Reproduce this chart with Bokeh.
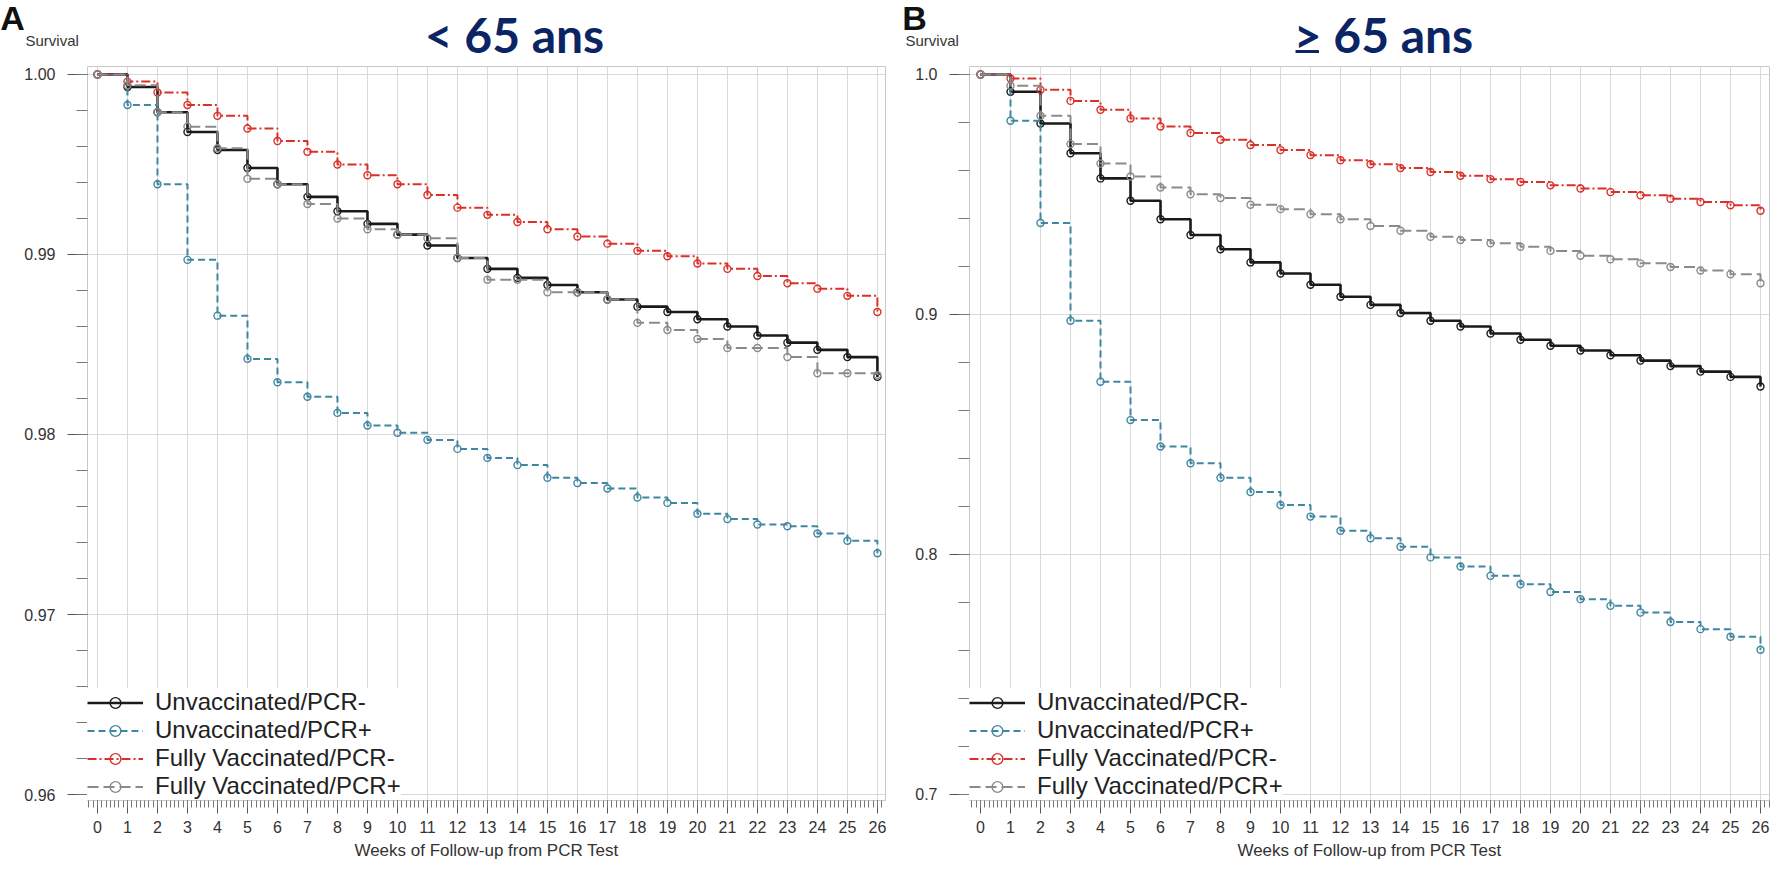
from bokeh.plotting import figure
from bokeh.models import (Range1d, SingleIntervalTicker, PrintfTickFormatter,
                          Legend, LegendItem, Label)
from bokeh.layouts import row, column
from bokeh.embed import file_html
from bokeh.resources import INLINE

# ---------------- data ----------------
weeks = list(range(27))
series_names = ["Unvaccinated/PCR-", "Unvaccinated/PCR+",
                "Fully Vaccinated/PCR-", "Fully Vaccinated/PCR+"]

# Panel A : < 65 ans
a_unvac_neg = [1.0, 0.9993, 0.9979, 0.9968, 0.9958, 0.9948, 0.9939, 0.9932, 0.9924,
               0.9917, 0.9911, 0.9905, 0.9898, 0.9892, 0.9887, 0.9883, 0.9879, 0.9875,
               0.9871, 0.9868, 0.9864, 0.9860, 0.9855, 0.9851, 0.9847, 0.9843, 0.9832]
a_unvac_pos = [1.0, 0.9983, 0.9939, 0.9897, 0.9866, 0.9842, 0.9829, 0.9821, 0.9812,
               0.9805, 0.9801, 0.9797, 0.9792, 0.9787, 0.9783, 0.9776, 0.9773, 0.9770,
               0.9765, 0.9762, 0.9756, 0.9753, 0.9750, 0.9749, 0.9745, 0.9741, 0.9734]
a_vacc_neg = [1.0, 0.9996, 0.9990, 0.9983, 0.9977, 0.9970, 0.9963, 0.9957, 0.9950,
              0.9944, 0.9939, 0.9933, 0.9926, 0.9922, 0.9918, 0.9914, 0.9910, 0.9906,
              0.9902, 0.9899, 0.9895, 0.9892, 0.9888, 0.9884, 0.9881, 0.9877, 0.9868]
a_vacc_pos = [1.0, 0.9994, 0.9979, 0.9971, 0.9959, 0.9942, 0.9939, 0.9928, 0.9920,
              0.9914, 0.9911, 0.9909, 0.9898, 0.9886, 0.9886, 0.9879, 0.9879, 0.9875,
              0.9862, 0.9858, 0.9853, 0.9848, 0.9848, 0.9843, 0.9834, 0.9834, 0.9833]

# Panel B : >= 65 ans
b_unvac_neg = [1.0, 0.9928, 0.9796, 0.9672, 0.9567, 0.9474, 0.9397, 0.9331, 0.9272,
               0.9217, 0.9171, 0.9124, 0.9074, 0.9040, 0.9006, 0.8974, 0.8950, 0.8921,
               0.8895, 0.8870, 0.8850, 0.8830, 0.8808, 0.8785, 0.8762, 0.8740, 0.8700]
b_unvac_pos = [1.0, 0.9807, 0.9381, 0.8974, 0.8720, 0.8560, 0.8450, 0.8380, 0.8320,
               0.8260, 0.8206, 0.8158, 0.8099, 0.8068, 0.8032, 0.7988, 0.7950, 0.7911,
               0.7876, 0.7844, 0.7814, 0.7786, 0.7758, 0.7719, 0.7689, 0.7657, 0.7603]
b_vacc_neg = [1.0, 0.9983, 0.9936, 0.9890, 0.9853, 0.9817, 0.9783, 0.9756, 0.9728,
              0.9706, 0.9685, 0.9664, 0.9643, 0.9626, 0.9610, 0.9594, 0.9578, 0.9564,
              0.9552, 0.9538, 0.9525, 0.9510, 0.9497, 0.9482, 0.9469, 0.9455, 0.9432]
b_vacc_pos = [1.0, 0.9953, 0.9828, 0.9710, 0.9629, 0.9575, 0.9529, 0.9501, 0.9485,
              0.9457, 0.9439, 0.9418, 0.9397, 0.9369, 0.9349, 0.9324, 0.9310, 0.9297,
              0.9282, 0.9265, 0.9245, 0.9230, 0.9213, 0.9198, 0.9183, 0.9168, 0.9130]

# ---------------- styles ----------------
colors = ["#1a1a1a", "#3f86a0", "#d9302a", "#8a8a8a"]
dashes = ["solid", "7 4", "9 3 2 3", "11 5"]
widths = [2.6, 2.0, 2.0, 2.0]
TITLE_COLOR = "#0b2463"
FONT = "Liberation Sans"
TITLE_SIZE = 48

HEAD_H = 64
PANEL_H = 799


def make_header(width, letter, title, letter_x, surv_x, title_x, underline_first=False):
    h = figure(width=width, height=HEAD_H, output_backend="svg", toolbar_location=None,
               x_range=Range1d(0, width), y_range=Range1d(0, HEAD_H),
               x_axis_location=None, y_axis_location=None,
               min_border=0, min_border_left=0, min_border_right=0,
               min_border_top=0, min_border_bottom=0)
    h.grid.visible = False
    h.outline_line_color = None
    h.background_fill_color = "white"
    h.border_fill_color = "white"
    h.add_layout(Label(x=letter_x, y=47, text=letter, text_font=FONT,
                       text_font_style="bold", text_font_size="34px",
                       text_color="#111111", text_align="center",
                       text_baseline="middle"))
    h.add_layout(Label(x=surv_x, y=24, text="Survival", text_font=FONT,
                       text_font_size="15px", text_color="#333333",
                       text_align="left", text_baseline="middle"))
    h.add_layout(Label(x=title_x, y=30, text=title, text_font="Lato",
                       text_font_style="bold", text_font_size=f"{TITLE_SIZE}px",
                       text_color=TITLE_COLOR, text_align="center",
                       text_baseline="middle"))
    if underline_first:
        # underline under the leading ">" of the title (reads as "greater or equal")
        text_w = 3.79 * TITLE_SIZE
        left = title_x - text_w / 2
        h.segment(x0=[left + 3], y0=[13], x1=[left + 0.55 * TITLE_SIZE], y1=[13],
                  line_color=TITLE_COLOR, line_width=3)
    return h


def make_panel(series, x_rng, y_rng, y_interval, y_fmt, width, b_left, b_right):
    p = figure(width=width, height=PANEL_H, output_backend="svg", toolbar_location=None,
               x_range=Range1d(*x_rng), y_range=Range1d(*y_rng),
               min_border_left=b_left, min_border_right=b_right,
               min_border_top=2, min_border_bottom=63)
    p.background_fill_color = "white"
    p.border_fill_color = "white"
    p.outline_line_color = "#c8c8c8"
    p.outline_line_width = 1

    xt = SingleIntervalTicker(interval=1, num_minor_ticks=7)
    yt = SingleIntervalTicker(interval=y_interval, num_minor_ticks=5)
    p.xaxis.ticker = xt
    p.yaxis.ticker = yt
    p.xgrid.ticker = xt
    p.ygrid.ticker = yt
    p.yaxis.formatter = PrintfTickFormatter(format=y_fmt)

    for ax in (p.xaxis, p.yaxis):
        ax.axis_line_color = None
        ax.major_tick_line_color = "#555555"
        ax.minor_tick_line_color = "#777777"
        ax.major_tick_in = 0
        ax.minor_tick_in = 0
        ax.major_label_text_font = FONT
        ax.major_label_text_font_size = "16px"
        ax.major_label_text_color = "#333333"
    p.xaxis.major_tick_out = 13
    p.xaxis.minor_tick_out = 7
    p.xaxis.major_label_standoff = 7
    p.yaxis.major_tick_out = 20
    p.yaxis.minor_tick_out = 11
    p.yaxis.major_label_standoff = 12
    p.xaxis.axis_label = "Weeks of Follow-up from PCR Test"
    p.xaxis.axis_label_text_font = FONT
    p.xaxis.axis_label_text_font_style = "normal"
    p.xaxis.axis_label_text_font_size = "17px"
    p.xaxis.axis_label_text_color = "#333333"
    p.xaxis.axis_label_standoff = 5

    p.xgrid.grid_line_color = "#d9d9d9"
    p.ygrid.grid_line_color = "#d9d9d9"
    p.xgrid.grid_line_width = 1
    p.ygrid.grid_line_width = 1

    items = []
    for name, ys, c, d, w in zip(series_names, series, colors, dashes, widths):
        ln = p.step(weeks, ys, mode="after", line_color=c, line_width=w, line_dash=d)
        sc = p.scatter(weeks, ys, marker="circle", size=7, line_color=c, line_width=1.4,
                       fill_color="white", fill_alpha=0.0)
        items.append(LegendItem(label=name, renderers=[ln, sc]))

    legend = Legend(items=items, location=(0, 0), margin=0, padding=6, spacing=0,
                    glyph_height=27, glyph_width=56, label_height=27,
                    label_standoff=12, label_text_font=FONT,
                    label_text_font_size="24px", label_text_color="#222222",
                    border_line_color=None, background_fill_color="white",
                    background_fill_alpha=1.0)
    p.add_layout(legend)
    return p


hA = make_header(900, "A", "< 65 ans", letter_x=12, surv_x=25, title_x=514)
hB = make_header(873, "B", "> 65 ans", letter_x=14, surv_x=5, title_x=483,
                 underline_first=True)

pA = make_panel([a_unvac_neg, a_unvac_pos, a_vacc_neg, a_vacc_pos],
                (-0.333, 26.27), (0.95967, 1.00044), 0.01, "%.2f",
                width=900, b_left=87, b_right=15)
pB = make_panel([b_unvac_neg, b_unvac_pos, b_vacc_neg, b_vacc_pos],
                (-0.367, 26.3), (0.6975, 1.00333), 0.1, "%.1f",
                width=873, b_left=69, b_right=4)

layout = column(row(hA, hB), row(pA, pB))
open("out.html", "w").write(file_html(layout, INLINE))
